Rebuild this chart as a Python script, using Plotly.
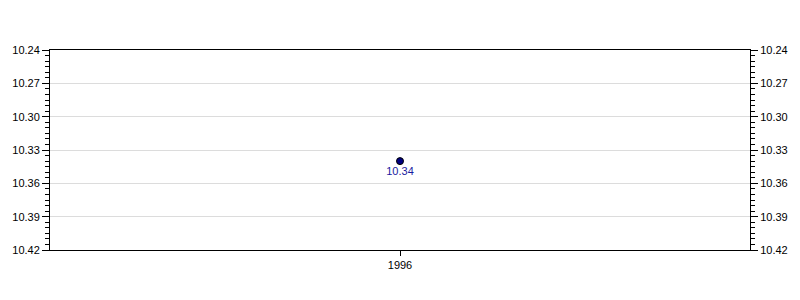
import plotly.graph_objects as go

years = [1996]
values = [10.34]
labels = ["10.34"]
y_ticks = [10.24, 10.27, 10.30, 10.33, 10.36, 10.39, 10.42]

fig = go.Figure()
fig.add_trace(go.Scatter(
    x=years, y=values, mode="markers+text", text=labels,
    textposition="bottom center",
    textfont=dict(family="Liberation Sans, Arial", size=11, color="#1a1aa0"),
    marker=dict(size=7, color="#000080", line=dict(color="black", width=1)),
    showlegend=False, hoverinfo="skip"))
fig.add_trace(go.Scatter(x=years, y=values, yaxis="y2", mode="markers",
                         marker=dict(opacity=0), showlegend=False, hoverinfo="skip"))

axis_font = dict(family="Liberation Sans, Arial", size=11, color="black")
yax = dict(range=[10.42, 10.24], tickvals=y_ticks, tickformat=".2f",
           ticks="outside", ticklen=7, tickcolor="black", tickfont=axis_font,
           showline=True, linecolor="black", linewidth=1,
           showgrid=True, gridcolor="#dcdcdc", gridwidth=1, zeroline=False,
           minor=dict(dtick=0.005, tick0=10.24, ticks="outside", ticklen=4,
                      tickcolor="black", showgrid=False))
fig.update_layout(
    width=800, height=300,
    margin=dict(l=50, r=48, t=50, b=50),
    paper_bgcolor="white", plot_bgcolor="white",
    xaxis=dict(range=[1995, 1997], tickvals=years, ticktext=["1996"],
               ticks="outside", ticklen=5, tickcolor="black", tickfont=axis_font,
               showline=True, linecolor="black", linewidth=1, mirror=True,
               showgrid=False, zeroline=False),
    yaxis=yax,
    yaxis2=dict(yax, overlaying="y", side="right", matches="y", showgrid=False),
)
fig.write_html("out.html")
